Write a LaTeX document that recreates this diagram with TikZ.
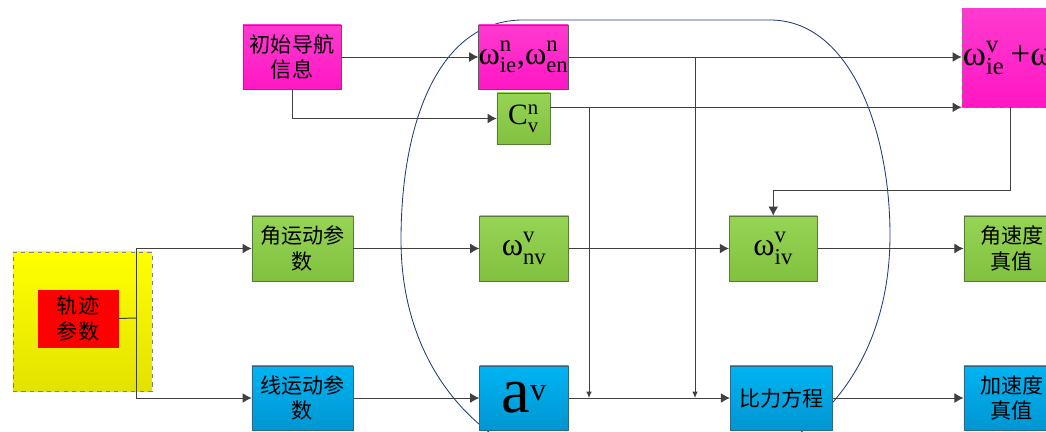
\documentclass[tikz,border=0pt]{standalone}
\usepackage{amsmath}
\usepackage{fontspec}
\setmainfont{Liberation Serif}
\newfontfamily\cjk{Noto Sans CJK SC}
\usepackage{xcolor}
\usepackage{tikz}
\usetikzlibrary{positioning, arrows.meta}

\definecolor{magA}{HTML}{FF3ACF}
\definecolor{magB}{HTML}{FF17C4}
\definecolor{grnA}{HTML}{96D455}
\definecolor{grnB}{HTML}{82C040}
\definecolor{bluA}{HTML}{00B4F2}
\definecolor{bluB}{HTML}{0096D2}
\definecolor{ylwA}{HTML}{FFFF00}
\definecolor{ylwB}{HTML}{E2E200}
\definecolor{boxline}{HTML}{5A5A5A}
\definecolor{grnline}{HTML}{5A7A38}
\definecolor{bluline}{HTML}{2E6A88}
\definecolor{wirecol}{HTML}{404040}
\definecolor{loopcol}{HTML}{1F3C7A}

\begin{document}
\begin{tikzpicture}[
    x=0.025cm, y=-0.025cm,
    box/.style={draw=boxline, rectangle, inner sep=0pt, align=center,
      minimum width=2.225cm, minimum height=1.6cm,
      font=\cjk\fontsize{15}{18}\selectfont},
    magbox/.style={box, top color=magA, bottom color=magB},
    grnbox/.style={box, top color=grnA, bottom color=grnB, draw=grnline},
    blubox/.style={box, top color=bluA, bottom color=bluB, draw=bluline},
    symfont/.style={font=\fontsize{23}{26}\selectfont},
    wire/.style={draw=wirecol, line width=0.7pt},
    arrow/.style={wire, -{Latex[length=6.5pt,width=7pt]}},
    tap/.style={wire, -{Latex[length=4.5pt,width=4pt]}}
]
\useasboundingbox (0,0) rectangle (1046,432);
\clip (0,0) rectangle (1046,432);

% loop drawn behind the boxes
\draw[loopcol, line width=0.6pt] (523,20) -- (770,20)
  .. controls (850,20) and (890,130) .. (890,235)
  .. controls (890,330) and (850,400) .. (790,440) -- (500,440)
  .. controls (440,400) and (401,330) .. (401,240)
  .. controls (401,120) and (440,20) .. (523,20) -- cycle;

\node[box, draw=gray, dashed, minimum width=3.475cm, minimum height=3.475cm,
  top color=ylwA, bottom color=ylwB] (trkbg) at (82.5,321.5) {};
\node[box, fill=red, draw=red, minimum width=2cm, minimum height=1.425cm] (trk) at (78,318.5) {轨迹\\参数};

\node[magbox, minimum width=2.45cm] (init) at (292,57) {初始导航\\信息};
\node[magbox, symfont] (wn) at (523.5,57) {ω$^{\text{n}}_{\text{ie}}$,ω$^{\text{n}}_{\text{en}}$};
\node[grnbox, minimum width=1.325cm, minimum height=1.275cm,
  font=\fontsize{21}{24}\selectfont] (cvn) at (523.5,118.5) {C$^{\text{n}}_{\text{v}}$};
\node[magbox, draw=gray, dashed, minimum width=2.4cm, minimum height=2.45cm,
  text width=2.35cm, align=left, font=\fontsize{25}{28}\selectfont] (wsum) at (1010,58)
  {\mbox{ω$^{\text{v}}_{\text{ie}}$\,+ω$^{\text{v}}_{\text{en}}$}};

\node[grnbox, minimum width=2.525cm, minimum height=1.625cm] (ang) at (302.5,248.5) {角运动参\\数};
\node[grnbox, minimum height=1.625cm, right=3.15cm of ang, symfont] (wnv) {ω$^{\text{v}}_{\text{nv}}$};
\node[grnbox, minimum width=2.2cm, minimum height=1.625cm, right=4cm of wnv, symfont] (wiv) {ω$^{\text{v}}_{\text{iv}}$};
\node[grnbox, minimum width=2.4cm, minimum height=1.625cm, right=3.65cm of wiv] (angt) {角速度\\真值};

\node[blubox, minimum width=2.525cm] (lin) at (302.5,398) {线运动参\\数};
\node[blubox, right=3.15cm of lin, font=\fontsize{46}{50}\selectfont] (av) {a$^{\scriptscriptstyle\text{v}}$};
\node[blubox, minimum width=2.55cm, right=4.025cm of av] (fe) {比力方程};
\node[blubox, minimum width=2.4cm, right=3.275cm of fe] (acct) {加速度\\真值};

% connectors
\coordinate (split) at (136,318);
\coordinate (dropA) at (589,0);
\coordinate (dropB) at (695,0);
\coordinate (bend) at (1010,190);

\draw[wire] (trk.east) -- (split);
\draw[arrow] (split) |- (ang.west);
\draw[arrow] (split) |- (lin.west);

\draw[arrow] (init) -- (wn);
\draw[arrow] (init.south) |- (cvn.west);
\draw[arrow] (wn.east) -- (wn.east -| wsum.west);
\draw[arrow] (cvn.east |- wsum.south west) -- (wsum.south west);
\draw[tap] (dropA |- wsum.south west) -- (dropA |- av.east);
\draw[tap] (dropB |- wn.east) -- (dropB |- av.east);
\draw[arrow] (wsum.south) -- (bend) -| (wiv.north);

\draw[arrow] (ang) -- (wnv);
\draw[arrow] (wnv) -- (wiv);
\draw[arrow] (wiv) -- (angt);
\draw[arrow] (lin) -- (av);
\draw[arrow] (av) -- (fe);
\draw[arrow] (fe) -- (acct);
\end{tikzpicture}
\end{document}
